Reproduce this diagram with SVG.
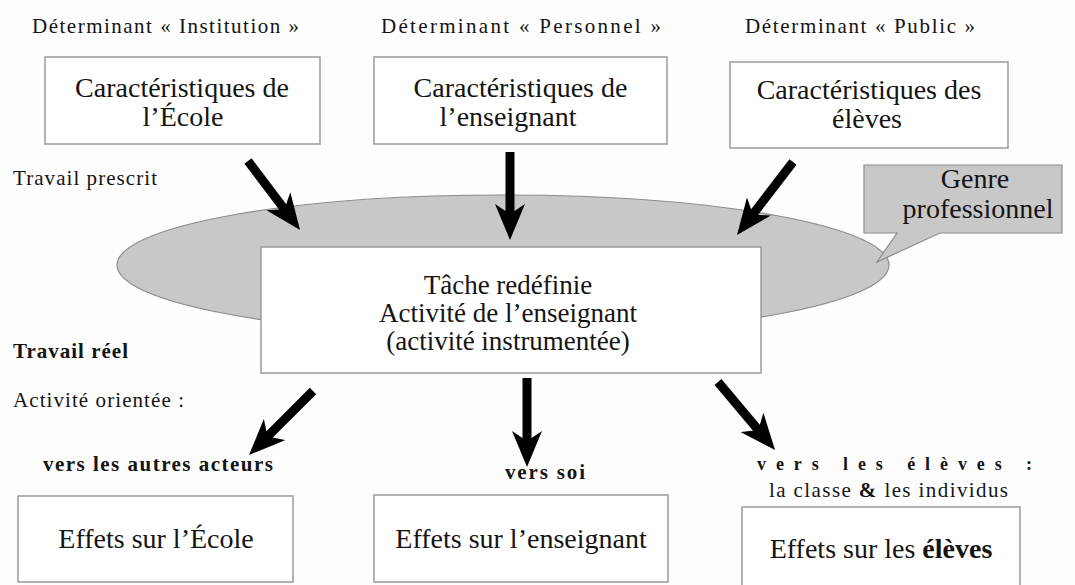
<svg xmlns="http://www.w3.org/2000/svg" width="1075" height="585" viewBox="0 0 1075 585">
  <style>
    .bg { fill: #fdfdfd; }
    .box { fill: #ffffff; stroke: #9a9a9a; stroke-width: 1.5; }
    .grey { fill: #c8c8c8; stroke: #8c8c8c; stroke-width: 1.2; }
    .t { font-family: "Liberation Serif", "Times New Roman", serif; fill: #141414; }
    .big { font-size: 28px; text-anchor: middle; }
    .mid { font-size: 27px; text-anchor: middle; }
    .lbl { font-size: 21px; }
    .b { font-weight: bold; }
    .arrow { stroke: #000; stroke-width: 9; stroke-linecap: butt; fill: none; marker-end: url(#head); }
  </style>
  <defs>
    <marker id="head" markerUnits="userSpaceOnUse" viewBox="0 0 36 30" markerWidth="36" markerHeight="30" refX="14" refY="15" orient="auto">
      <path d="M0,0 L36,15 L0,30 L10,15 Z" fill="#000"/>
    </marker>
  </defs>
  <rect class="bg" x="0" y="0" width="1075" height="585"/>

  <g id="labels">
    <text class="t lbl" x="32" y="33" textLength="267" lengthAdjust="spacing">Déterminant « Institution »</text>
    <text class="t lbl" x="381" y="33" textLength="280" lengthAdjust="spacing">Déterminant « Personnel »</text>
    <text class="t lbl" x="745" y="33" textLength="230" lengthAdjust="spacing">Déterminant « Public »</text>
    <text class="t lbl" x="13" y="185" textLength="144" lengthAdjust="spacing">Travail prescrit</text>
    <text class="t lbl b" x="13" y="358" textLength="115" lengthAdjust="spacing">Travail réel</text>
    <text class="t lbl" x="13" y="407" textLength="171" lengthAdjust="spacing">Activité orientée :</text>
    <text class="t lbl b" x="43" y="471" textLength="230" lengthAdjust="spacing">vers les autres acteurs</text>
    <text class="t lbl b" x="505" y="479" textLength="80" lengthAdjust="spacing">vers soi</text>
    <text class="t b" font-size="18" x="757" y="470" textLength="275" lengthAdjust="spacing">vers les élèves :</text>
    <text class="t lbl" x="769" y="497" textLength="239" lengthAdjust="spacing">la classe <tspan class="b">&amp;</tspan> les individus</text>
  </g>

  <g id="ellipse-travail">
    <ellipse class="grey" cx="503" cy="265" rx="386" ry="70"/>
  </g>

  <g id="genre-professionnel">
    <path class="grey" d="M864,165 H1062 V233 H940 L877,262 L897,233 H864 Z"/>
    <text class="t big" x="975" y="188">Genre</text>
    <text class="t big" x="978" y="218">professionnel</text>
  </g>

  <g id="node-ecole">
    <rect class="box" x="45" y="57" width="275" height="87"/>
    <text class="t big" x="182" y="97">Caractéristiques de</text>
    <text class="t big" x="183" y="126">l’École</text>
  </g>
  <g id="node-enseignant">
    <rect class="box" x="374" y="57" width="293" height="87"/>
    <text class="t big" x="520.5" y="97">Caractéristiques de</text>
    <text class="t big" x="508" y="126">l’enseignant</text>
  </g>
  <g id="node-eleves">
    <rect class="box" x="730" y="62" width="278" height="86"/>
    <text class="t big" x="869" y="99">Caractéristiques des</text>
    <text class="t big" x="867" y="128">élèves</text>
  </g>

  <g id="node-tache">
    <rect class="box" x="261" y="247" width="500" height="126"/>
    <text class="t mid" x="508" y="294">Tâche redéfinie</text>
    <text class="t mid" x="508" y="322">Activité de l’enseignant</text>
    <text class="t mid" x="508" y="350">(activité instrumentée)</text>
  </g>

  <g id="node-effets-ecole">
    <rect class="box" x="18" y="496" width="275" height="86"/>
    <text class="t big" x="156" y="548">Effets sur l’École</text>
  </g>
  <g id="node-effets-enseignant">
    <rect class="box" x="374" y="495" width="294" height="87"/>
    <text class="t big" x="521" y="548">Effets sur l’enseignant</text>
  </g>
  <g id="node-effets-eleves">
    <rect class="box" x="742" y="507" width="278" height="90"/>
    <text class="t big" x="881" y="558">Effets sur les <tspan class="b">élèves</tspan></text>
  </g>

  <g id="connectors">
    <line class="arrow" x1="248" y1="161" x2="286.8" y2="212.4"/>
    <line class="arrow" x1="510" y1="152" x2="510" y2="218"/>
    <line class="arrow" x1="793" y1="162" x2="750.4" y2="217.6"/>
    <line class="arrow" x1="313" y1="391" x2="264.6" y2="439.4"/>
    <line class="arrow" x1="527" y1="378" x2="527" y2="445"/>
    <line class="arrow" x1="718" y1="382" x2="760.9" y2="433.1"/>
  </g>
</svg>
